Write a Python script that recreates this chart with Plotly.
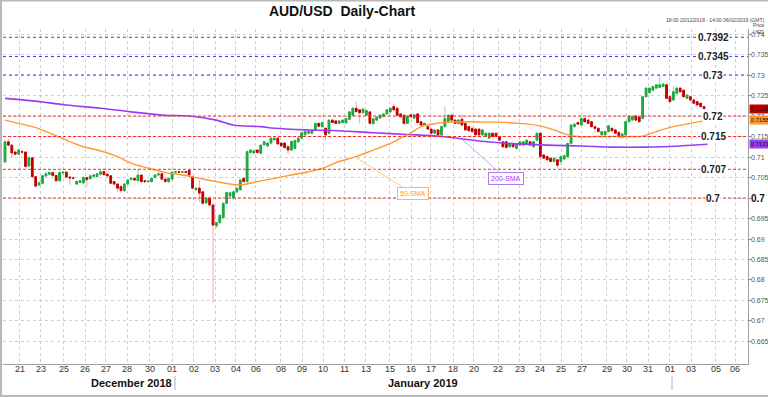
import plotly.graph_objects as go

# ---------------- data (4-hour candles) ----------------
opens = [0.7088,0.7137,0.7129,0.7112,0.7107,0.7113,0.7112,0.7078,0.7098,0.7052,
         0.7032,0.7036,0.7054,0.7058,0.7062,0.7055,0.7042,0.7061,0.7063,0.7051,
         0.7049,0.7034,0.7038,0.7037,0.7050,0.7047,0.7053,0.7052,0.7058,0.7064,
         0.7058,0.7054,0.7040,0.7034,0.7028,0.7018,0.7034,0.7045,0.7048,0.7042,
         0.7056,0.7042,0.7040,0.7040,0.7050,0.7056,0.7059,0.7046,0.7040,0.7046,
         0.7063,0.7064,0.7063,0.7064,0.7067,0.7052,0.7020,0.7024,0.7015,0.6988,
         0.7000,0.6983,0.6932,0.6940,0.6952,0.6987,0.7005,0.7000,0.7015,0.7020,
         0.7048,0.7040,0.7111,0.7110,0.7117,0.7109,0.7130,0.7127,0.7134,0.7142,
         0.7146,0.7134,0.7134,0.7125,0.7117,0.7121,0.7137,0.7146,0.7154,0.7158,
         0.7158,0.7166,0.7182,0.7174,0.7170,0.7158,0.7190,0.7188,0.7182,0.7184,
         0.7183,0.7192,0.7202,0.7219,0.7215,0.7208,0.7202,0.7210,0.7182,0.7190,
         0.7195,0.7199,0.7205,0.7210,0.7223,0.7219,0.7205,0.7202,0.7182,0.7203,
         0.7195,0.7205,0.7186,0.7178,0.7174,0.7168,0.7158,0.7166,0.7154,0.7174,
         0.7186,0.7202,0.7190,0.7182,0.7192,0.7182,0.7174,0.7170,0.7168,0.7168,
         0.7154,0.7150,0.7146,0.7158,0.7158,0.7150,0.7137,0.7137,0.7125,0.7133,
         0.7121,0.7129,0.7129,0.7131,0.7137,0.7125,0.7141,0.7158,0.7105,0.7101,
         0.7097,0.7089,0.7093,0.7089,0.7095,0.7101,0.7133,0.7174,0.7184,0.7178,
         0.7194,0.7190,0.7186,0.7174,0.7170,0.7154,0.7154,0.7162,0.7170,0.7166,
         0.7160,0.7148,0.7154,0.7186,0.7190,0.7200,0.7197,0.7194,0.7247,0.7257,
         0.7263,0.7268,0.7270,0.7272,0.7276,0.7247,0.7239,0.7255,0.7268,0.7263,
         0.7243,0.7247,0.7239,0.7235,0.7231,0.7223]
highs = [0.7141,0.7143,0.7131,0.7115,0.7120,0.7120,0.7114,0.7103,0.7100,0.7055,
         0.7040,0.7056,0.7065,0.7067,0.7064,0.7057,0.7066,0.7066,0.7065,0.7053,
         0.7050,0.7043,0.7045,0.7052,0.7052,0.7057,0.7058,0.7061,0.7070,0.7072,
         0.7060,0.7056,0.7042,0.7036,0.7030,0.7036,0.7046,0.7051,0.7050,0.7070,
         0.7058,0.7045,0.7044,0.7050,0.7058,0.7062,0.7061,0.7048,0.7050,0.7066,
         0.7066,0.7065,0.7066,0.7066,0.7070,0.7054,0.7027,0.7044,0.7017,0.7003,
         0.7002,0.6985,0.6942,0.6960,0.6989,0.7015,0.7016,0.7018,0.7026,0.7047,
         0.7050,0.7116,0.7120,0.7118,0.7119,0.7131,0.7140,0.7136,0.7148,0.7149,
         0.7148,0.7136,0.7136,0.7128,0.7140,0.7142,0.7148,0.7161,0.7164,0.7164,
         0.7168,0.7184,0.7185,0.7186,0.7172,0.7192,0.7192,0.7190,0.7190,0.7192,
         0.7196,0.7212,0.7221,0.7235,0.7217,0.7219,0.7215,0.7212,0.7195,0.7199,
         0.7204,0.7207,0.7217,0.7221,0.7230,0.7221,0.7207,0.7204,0.7202,0.7205,
         0.7205,0.7207,0.7188,0.7184,0.7176,0.7170,0.7168,0.7168,0.7176,0.7223,
         0.7204,0.7204,0.7192,0.7192,0.7204,0.7184,0.7176,0.7172,0.7170,0.7170,
         0.7168,0.7160,0.7160,0.7160,0.7160,0.7152,0.7139,0.7139,0.7135,0.7135,
         0.7133,0.7139,0.7139,0.7143,0.7139,0.7139,0.7160,0.7160,0.7107,0.7103,
         0.7099,0.7099,0.7095,0.7103,0.7105,0.7135,0.7180,0.7182,0.7186,0.7196,
         0.7196,0.7192,0.7188,0.7176,0.7172,0.7164,0.7164,0.7178,0.7172,0.7168,
         0.7162,0.7158,0.7188,0.7201,0.7201,0.7202,0.7199,0.7249,0.7270,0.7270,
         0.7274,0.7278,0.7300,0.7280,0.7278,0.7249,0.7272,0.7270,0.7270,0.7265,
         0.7253,0.7249,0.7241,0.7237,0.7233,0.7225]
lows = [0.7084,0.7126,0.7097,0.7103,0.7105,0.7108,0.7074,0.7075,0.7048,0.7026,
        0.7029,0.7033,0.7051,0.7055,0.7052,0.7040,0.7040,0.7058,0.7048,0.7032,
        0.7046,0.7032,0.7036,0.7035,0.7028,0.7045,0.7051,0.7050,0.7055,0.7054,
        0.7052,0.7034,0.7031,0.7015,0.7012,0.7015,0.7032,0.7043,0.7041,0.7040,
        0.7038,0.7036,0.7037,0.7037,0.7048,0.7054,0.7044,0.7038,0.7037,0.7044,
        0.7061,0.7061,0.7062,0.7061,0.7054,0.7022,0.7018,0.6990,0.6985,0.6985,
        0.6980,0.6744,0.6927,0.6937,0.6948,0.6984,0.7002,0.6995,0.7012,0.7018,
        0.7038,0.7038,0.7108,0.7106,0.7108,0.7106,0.7127,0.7124,0.7131,0.7140,
        0.7130,0.7125,0.7120,0.7108,0.7115,0.7118,0.7135,0.7144,0.7152,0.7156,
        0.7156,0.7164,0.7172,0.7172,0.7141,0.7155,0.7182,0.7180,0.7180,0.7182,
        0.7181,0.7190,0.7200,0.7208,0.7182,0.7206,0.7200,0.7180,0.7178,0.7188,
        0.7193,0.7197,0.7203,0.7208,0.7213,0.7200,0.7196,0.7180,0.7180,0.7196,
        0.7193,0.7182,0.7176,0.7176,0.7166,0.7156,0.7156,0.7152,0.7152,0.7172,
        0.7184,0.7188,0.7180,0.7180,0.7176,0.7164,0.7162,0.7160,0.7152,0.7152,
        0.7152,0.7148,0.7144,0.7148,0.7148,0.7139,0.7123,0.7121,0.7123,0.7123,
        0.7119,0.7127,0.7127,0.7129,0.7127,0.7123,0.7139,0.7093,0.7095,0.7091,
        0.7087,0.7087,0.7072,0.7080,0.7093,0.7099,0.7131,0.7172,0.7178,0.7176,
        0.7184,0.7180,0.7172,0.7160,0.7160,0.7146,0.7152,0.7160,0.7162,0.7156,
        0.7148,0.7146,0.7152,0.7184,0.7188,0.7188,0.7184,0.7192,0.7245,0.7255,
        0.7261,0.7266,0.7268,0.7270,0.7241,0.7233,0.7237,0.7253,0.7257,0.7245,
        0.7241,0.7237,0.7229,0.7225,0.7221,0.7216]
closes = [0.7137,0.7129,0.7110,0.7107,0.7117,0.7112,0.7077,0.7098,0.7052,0.7029,
          0.7037,0.7054,0.7059,0.7062,0.7055,0.7042,0.7062,0.7063,0.7051,0.7049,
          0.7048,0.7040,0.7042,0.7050,0.7045,0.7054,0.7056,0.7059,0.7064,0.7057,
          0.7054,0.7036,0.7034,0.7024,0.7018,0.7034,0.7044,0.7048,0.7044,0.7056,
          0.7040,0.7040,0.7041,0.7048,0.7056,0.7059,0.7046,0.7040,0.7048,0.7063,
          0.7064,0.7063,0.7064,0.7063,0.7056,0.7024,0.7024,0.7012,0.6987,0.7000,
          0.6983,0.6934,0.6940,0.6958,0.6987,0.7013,0.7013,0.7015,0.7024,0.7044,
          0.7040,0.7113,0.7117,0.7115,0.7111,0.7129,0.7137,0.7134,0.7146,0.7146,
          0.7132,0.7127,0.7123,0.7117,0.7138,0.7140,0.7146,0.7159,0.7162,0.7162,
          0.7166,0.7182,0.7175,0.7184,0.7154,0.7190,0.7184,0.7182,0.7188,0.7190,
          0.7194,0.7210,0.7219,0.7211,0.7208,0.7217,0.7213,0.7182,0.7193,0.7197,
          0.7202,0.7205,0.7215,0.7219,0.7215,0.7202,0.7198,0.7182,0.7200,0.7198,
          0.7203,0.7184,0.7178,0.7182,0.7168,0.7158,0.7166,0.7154,0.7174,0.7194,
          0.7202,0.7190,0.7182,0.7190,0.7178,0.7166,0.7164,0.7162,0.7154,0.7154,
          0.7166,0.7158,0.7158,0.7150,0.7150,0.7141,0.7125,0.7123,0.7133,0.7125,
          0.7131,0.7137,0.7137,0.7141,0.7129,0.7137,0.7158,0.7101,0.7097,0.7093,
          0.7089,0.7097,0.7080,0.7101,0.7103,0.7133,0.7178,0.7180,0.7180,0.7194,
          0.7186,0.7182,0.7174,0.7170,0.7162,0.7162,0.7162,0.7176,0.7164,0.7158,
          0.7150,0.7156,0.7186,0.7199,0.7199,0.7190,0.7186,0.7247,0.7268,0.7268,
          0.7272,0.7276,0.7276,0.7278,0.7243,0.7235,0.7259,0.7268,0.7259,0.7247,
          0.7251,0.7239,0.7231,0.7227,0.7223,0.7218]

sma50_idx = [0, 4, 8, 13, 18, 23, 27, 33, 37, 42, 47, 52, 57, 62, 67, 70, 74, 79, 84, 89,
             93, 98, 103, 108, 113, 116, 119, 122, 125, 130, 135, 141, 145, 151, 157, 161,
             165, 168, 174, 182, 187, 191, 196, 201, 206]
sma50_val = [0.7190, 0.7182, 0.7174, 0.7159, 0.7141, 0.7125, 0.7117, 0.7101, 0.7085, 0.7073,
             0.7062, 0.7056, 0.7048, 0.7040, 0.7033, 0.7033, 0.7040, 0.7048, 0.7056, 0.7064,
             0.7072, 0.7089, 0.7101, 0.7117, 0.7133, 0.7146, 0.7159, 0.7174, 0.7180, 0.7185,
             0.7186, 0.7185, 0.7185, 0.7182, 0.7176, 0.7166, 0.7154, 0.7150, 0.7150, 0.7150,
             0.7151, 0.7162, 0.7174, 0.7182, 0.7190]
sma200_idx = [0, 8, 18, 28, 37, 47, 54, 62, 67, 75, 79, 89, 98, 108, 118, 128, 137, 146,
              159, 169, 178, 188, 198, 206]
sma200_val = [0.7243, 0.7237, 0.7227, 0.7219, 0.7210, 0.7202, 0.7200, 0.7190, 0.7178, 0.7174,
              0.7170, 0.7166, 0.7164, 0.7159, 0.7155, 0.7150, 0.7141, 0.7134, 0.7129, 0.7127,
              0.7124, 0.7124, 0.7127, 0.7131]

blue_levels = [0.7392, 0.7345, 0.73]
blue_labels = ["0.7392", "0.7345", "0.73"]
red_levels = [0.72, 0.715, 0.707, 0.7]
red_labels = ["0.72", "0.715", "0.707", "0.7"]

xtick_text = ["21", "23", "25", "26", "27", "28", "30", "01", "02", "03", "04", "06", "08",
              "09", "10", "11", "13", "15", "16", "17", "18", "20", "22", "23", "24", "25",
              "27", "29", "30", "31", "01", "03", "05", "06"]
xtick_pos = [4.3, 10.5, 17.2, 23.5, 29.6, 35.8, 42.5, 49.1, 55.3, 61.6, 67.7, 73.6, 80.9,
             87.1, 93.4, 99.6, 105.8, 112.9, 119.1, 124.9, 131.4, 137.5, 144.7, 150.9,
             156.9, 163.1, 169.2, 176.5, 182.4, 188.7, 195.0, 201.2, 208.5, 214.1]
ytick_vals = [0.665, 0.67, 0.675, 0.68, 0.685, 0.69, 0.695, 0.7, 0.705, 0.71, 0.715,
              0.72, 0.725, 0.73, 0.735, 0.74]
ytick_text = ["0.665", "0.67", "0.675", "0.68", "0.685", "0.69", "0.695", "0.7", "0.705",
              "0.71", "0.715", "0.72", "0.725", "0.73", "0.735", "0.74"]

last_price = "0.7218"
sma50_last = "0.7188"
sma200_last = "0.7131"

# ---------------- geometry ----------------
W, H = 768, 397
PL, PR, PT, PB = 3, 748, 29, 364      # plot box in pixels
STEP = 3.41                            # pixels per candle
X0PX = 5                               # pixel of first candle
Y_TOP, Y_BOT = 0.74122, 0.65951

def px(xp):
    return (xp - PL) / (PR - PL)

def py(yp):
    return (PB - yp) / (PB - PT)

FONT = "Liberation Sans, Arial, sans-serif"

idx = list(range(len(closes)))
body_hi = [max(o, c) for o, c in zip(opens, closes)]
body_lo = [min(o, c) for o, c in zip(opens, closes)]

fig = go.Figure()

# wicks (light colours)
fig.add_trace(go.Candlestick(
    x=idx, open=opens, high=highs, low=lows, close=closes,
    increasing=dict(line=dict(color="#8fdc9c", width=1), fillcolor="#8fdc9c"),
    decreasing=dict(line=dict(color="#f4a7a7", width=1), fillcolor="#f4a7a7"),
    whiskerwidth=0, hoverinfo="skip", showlegend=False))
# bodies (strong colours)
fig.add_trace(go.Candlestick(
    x=idx, open=opens, high=body_hi, low=body_lo, close=closes,
    increasing=dict(line=dict(color="#1fa843", width=1), fillcolor="#1fa843"),
    decreasing=dict(line=dict(color="#c00000", width=1), fillcolor="#c00000"),
    whiskerwidth=0, hoverinfo="skip", showlegend=False))

fig.add_trace(go.Scatter(x=sma200_idx, y=sma200_val, mode="lines",
                         line=dict(color="#9b3cf5", width=1.6, shape="spline"),
                         hoverinfo="skip", showlegend=False))
fig.add_trace(go.Scatter(x=sma50_idx, y=sma50_val, mode="lines",
                         line=dict(color="#ff9a2a", width=1.4, shape="spline"),
                         hoverinfo="skip", showlegend=False))

shapes = []
for lv in blue_levels:
    shapes.append(dict(type="line", xref="paper", x0=0, x1=1, yref="y", y0=lv, y1=lv,
                       line=dict(color="#3a3aff", width=1, dash="dot"), layer="above"))
for lv in red_levels:
    shapes.append(dict(type="line", xref="paper", x0=0, x1=1, yref="y", y0=lv, y1=lv,
                       line=dict(color="#ff2a2a", width=1, dash="3px,2px"), layer="above"))
# month separators
for sx in (175, 672):
    shapes.append(dict(type="line", xref="paper", yref="paper", x0=px(sx), x1=px(sx),
                       y0=py(376), y1=py(390), line=dict(color="#b0b0b0", width=1)))
# outer frame
shapes.append(dict(type="rect", xref="paper", yref="paper", x0=px(1), x1=px(769),
                   y0=py(396), y1=py(0.5), line=dict(color="#b8b8b8", width=2),
                   fillcolor="rgba(0,0,0,0)"))

ann = []
# x tick labels
for xv, t in zip(xtick_pos, xtick_text):
    ann.append(dict(xref="x", x=xv, yref="paper", y=py(369), text=t, showarrow=False,
                    font=dict(family=FONT, size=9, color="#333"),
                    xanchor="center", yanchor="middle"))
# y tick labels (0.7 is shown bold further below)
for yv, t in zip(ytick_vals, ytick_text):
    if t == "0.7":
        continue
    ann.append(dict(xref="paper", x=px(749.5), yref="y", y=yv, text=t, showarrow=False,
                    font=dict(family=FONT, size=7, color="#555"),
                    xanchor="left", yanchor="middle", borderpad=0))
for lv, t in zip(blue_levels + red_levels, blue_labels + red_labels):
    ann.append(dict(xref="paper", x=px(713), yref="y", y=lv, text="<b>%s</b>" % t,
                    showarrow=False, font=dict(family=FONT, size=10, color="#222"),
                    bgcolor="white", borderpad=0, xanchor="center", yanchor="middle"))
# bold 0.7 on the price axis
ann.append(dict(xref="paper", x=px(750), yref="y", y=0.7, text="<b>0.7</b>",
                showarrow=False, font=dict(family=FONT, size=10, color="#111"),
                xanchor="left", yanchor="middle", borderpad=0))
# price badges
for val, txt, col in ((0.7218, last_price, "#c00000"),
                      (0.7190, sma50_last, "#ff9a2a"),
                      (0.7131, sma200_last, "#9b3cf5")):
    ann.append(dict(xref="paper", x=px(748.5), yref="y", y=val, text=txt, showarrow=False,
                    font=dict(family=FONT, size=6, color="#111"), bgcolor=col,
                    xanchor="left", yanchor="middle", borderpad=1, width=18))
# SMA labels
ann.append(dict(x=102.6, y=0.7100, xref="x", yref="y", ax=119.6, ay=0.7011,
                axref="x", ayref="y", text="50-SMA", showarrow=True, arrowhead=0,
                arrowwidth=1, arrowcolor="#ffc58a", bgcolor="white",
                bordercolor="#ffb266", borderwidth=1, borderpad=2,
                font=dict(family=FONT, size=7, color="#ff9a2a")))
ann.append(dict(x=134.3, y=0.71415, xref="x", yref="y", ax=146.9, ay=0.70476,
                axref="x", ayref="y", text="200-SMA", showarrow=True, arrowhead=0,
                arrowwidth=1, arrowcolor="#c9a0f5", bgcolor="white",
                bordercolor="#b07cf0", borderwidth=1, borderpad=2,
                font=dict(family=FONT, size=7, color="#9b3cf5")))
# month labels
ann.append(dict(xref="paper", yref="paper", x=px(89), y=py(383), text="<b>December 2018</b>",
                showarrow=False, font=dict(family=FONT, size=11, color="#111"),
                yanchor="middle"))
ann.append(dict(xref="paper", yref="paper", x=px(423), y=py(383), text="<b>January 2019</b>",
                showarrow=False, font=dict(family=FONT, size=11, color="#111"),
                yanchor="middle"))
# header texts
ann.append(dict(xref="paper", yref="paper", x=px(766), y=py(15), xanchor="right",
                text="18:00 20/12/2018 - 14:00 06/02/2019 (GMT)", showarrow=False,
                font=dict(family=FONT, size=5, color="#444")))
ann.append(dict(xref="paper", yref="paper", x=px(751), y=py(20.5), xanchor="left",
                text="Price", showarrow=False, font=dict(family=FONT, size=5, color="#444")))
ann.append(dict(xref="paper", yref="paper", x=px(751), y=py(26.5), xanchor="left",
                text="USD", showarrow=False, font=dict(family=FONT, size=5, color="#444")))

fig.update_layout(
    template="none",
    width=W, height=H,
    margin=dict(l=PL, r=W - PR, t=PT, b=H - PB, autoexpand=False),
    paper_bgcolor="white", plot_bgcolor="white",
    showlegend=False,
    title=dict(text="<b>AUD/USD  Daily-Chart</b>", x=342 / W, xanchor="center",
               y=1 - 11 / H, yanchor="middle",
               font=dict(family=FONT, size=14, color="#111")),
    xaxis=dict(range=[(PL - X0PX) / STEP, (PR - X0PX) / STEP], automargin=False,
               rangeslider=dict(visible=False), tickmode="array",
               tickvals=xtick_pos, ticktext=xtick_text, showticklabels=False,
               showgrid=True, gridcolor="#cfcfcf", griddash="dot", gridwidth=1,
               showline=True, linecolor="#a0a0a0", linewidth=1, mirror=False,
               ticks="", zeroline=False),
    yaxis=dict(range=[Y_BOT, Y_TOP], side="right", tickmode="array", automargin=False,
               tickvals=ytick_vals, showticklabels=False,
               showgrid=True, gridcolor="#cfcfcf", griddash="dot", gridwidth=1,
               showline=True, linecolor="#a0a0a0", linewidth=1,
               ticks="outside", ticklen=2, tickcolor="#888", zeroline=False),
    shapes=shapes, annotations=ann,
)

fig.write_html("out.html", config={"displayModeBar": False},
               post_script="document.body.style.margin='0';document.body.style.padding='0';")
